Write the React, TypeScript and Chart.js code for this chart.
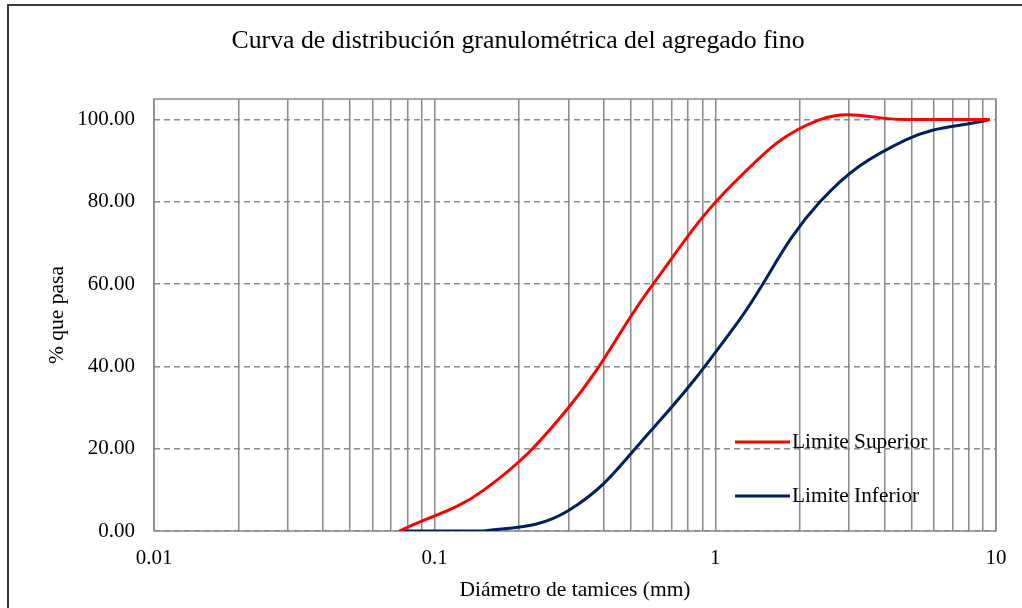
import React, { useEffect, useRef } from "react";
import { Chart, registerables } from "chart.js";

Chart.register(...registerables);

const chartTitle = "Curva de distribución granulométrica del agregado fino";
const xAxisTitle = "Diámetro de tamices (mm)";
const yAxisTitle = "% que pasa";

// Sieve openings (mm)
const sieveSizes = [0.075, 0.15, 0.3, 0.6, 1.18, 2.36, 4.75, 9.5];
const upperLimit = [0, 10, 30, 60, 85, 100, 100, 100];
const lowerLimit = [0, 0, 5, 25, 50, 80, 95, 100];
const seriesNames = ["Limite Superior", "Limite Inferior"];
const seriesColors = ["#FF0000", "#002060"];

const decadeLabels = [0.01, 0.1, 1, 10];
const minorMultipliers = [1, 2, 3, 4, 5, 6, 7, 8, 9];
const yTickValues = [0, 20, 40, 60, 80, 100];

const FONT = "'Liberation Serif', 'Times New Roman', serif";

const frameAndLegend = {
  id: "frameAndLegend",
  beforeDraw(chart: any) {
    const { ctx, width, height } = chart;
    ctx.save();
    ctx.fillStyle = "#ffffff";
    ctx.fillRect(0, 0, width, height);
    ctx.strokeStyle = "#3a3a3a";
    ctx.lineWidth = 2;
    ctx.beginPath();
    ctx.moveTo(8, height);
    ctx.lineTo(8, 5);
    ctx.lineTo(width, 5);
    ctx.stroke();
    // title
    ctx.fillStyle = "#000";
    ctx.font = `25.8px ${FONT}`;
    ctx.textAlign = "center";
    ctx.textBaseline = "middle";
    ctx.fillText(chartTitle, 518, 41);
    ctx.restore();
  },
  beforeDatasetsDraw(chart: any) {
    const { ctx, chartArea } = chart;
    ctx.save();
    ctx.strokeStyle = "#8a8a8a";
    ctx.lineWidth = 1.5;
    ctx.strokeRect(
      chartArea.left,
      chartArea.top,
      chartArea.right - chartArea.left,
      chartArea.bottom - chartArea.top
    );
    ctx.restore();
  },
  afterDatasetsDraw(chart: any) {
    const { ctx } = chart;
    ctx.save();
    const ys = [442, 496];
    chart.data.datasets.forEach((ds: any, i: number) => {
      ctx.strokeStyle = ds.borderColor;
      ctx.lineWidth = 3;
      ctx.beginPath();
      ctx.moveTo(735, ys[i]);
      ctx.lineTo(790, ys[i]);
      ctx.stroke();
      ctx.fillStyle = "#000";
      ctx.font = `21.3px ${FONT}`;
      ctx.textAlign = "left";
      ctx.textBaseline = "middle";
      ctx.fillText(ds.label, 792, ys[i]);
    });
    ctx.restore();
  },
};

export default function App() {
  const canvasRef = useRef<HTMLCanvasElement | null>(null);

  useEffect(() => {
    document.body.style.margin = "0";
    const canvas = canvasRef.current;
    if (!canvas) return;

    const xTicks: number[] = [];
    for (let d = 0; d < decadeLabels.length - 1; d++) {
      for (const m of minorMultipliers) {
        xTicks.push(Number((decadeLabels[d] * m).toPrecision(3)));
      }
    }
    xTicks.push(decadeLabels[decadeLabels.length - 1]);

    const chart = new Chart(canvas, {
      type: "line",
      data: {
        datasets: [
          {
            label: seriesNames[0],
            data: sieveSizes.map((s, i) => ({ x: s, y: upperLimit[i] })),
            borderColor: seriesColors[0],
            backgroundColor: seriesColors[0],
            borderWidth: 3,
            pointRadius: 0,
            tension: 0.4,
            fill: false,
          },
          {
            label: seriesNames[1],
            data: sieveSizes.map((s, i) => ({ x: s, y: lowerLimit[i] })),
            borderColor: seriesColors[1],
            backgroundColor: seriesColors[1],
            borderWidth: 3,
            pointRadius: 0,
            tension: 0.4,
            fill: false,
          },
        ],
      },
      options: {
        responsive: false,
        animation: false,
        layout: { padding: { top: 99, right: 26, left: 0, bottom: 0 } },
        plugins: {
          legend: { display: false },
          title: { display: false },
          tooltip: { enabled: false },
        },
        scales: {
          x: {
            type: "logarithmic",
            min: 0.01,
            max: 10,
            afterBuildTicks: (scale: any) => {
              scale.ticks = xTicks.map((v) => ({ value: v }));
            },
            afterFit: (scale: any) => {
              scale.height = 77;
            },
            ticks: {
              autoSkip: false,
              maxRotation: 0,
              minRotation: 0,
              padding: 15,
              color: "#000",
              font: { family: FONT, size: 21 },
              callback: (value: any) => {
                const v = Number(value);
                return decadeLabels.some((d) => Math.abs(d - v) < 1e-9) ? String(v) : "";
              },
            },
            grid: {
              color: "#8a8a8a",
              lineWidth: 1.5,
              drawTicks: false,
            },
            border: { display: false },
            title: {
              display: true,
              text: xAxisTitle,
              color: "#000",
              font: { family: FONT, size: 21.5 },
              padding: { top: 0, bottom: 5 },
            },
          },
          y: {
            type: "linear",
            min: 0,
            max: 105,
            afterBuildTicks: (scale: any) => {
              scale.ticks = yTickValues.map((v) => ({ value: v }));
            },
            afterFit: (scale: any) => {
              scale.width = 154;
            },
            ticks: {
              padding: 19,
              color: "#000",
              font: { family: FONT, size: 21 },
              callback: (value: any) => Number(value).toFixed(2),
            },
            grid: {
              color: "#8a8a8a",
              lineWidth: 1.5,
              drawTicks: false,
            },
            border: { display: false, dash: [6, 4] },
            title: {
              display: true,
              text: yAxisTitle,
              color: "#000",
              font: { family: FONT, size: 21.5 },
              padding: { top: 44, bottom: 0 },
            },
          },
        },
      },
      plugins: [frameAndLegend],
    });

    return () => chart.destroy();
  }, []);

  return <canvas ref={canvasRef} width={1022} height={608} />;
}
